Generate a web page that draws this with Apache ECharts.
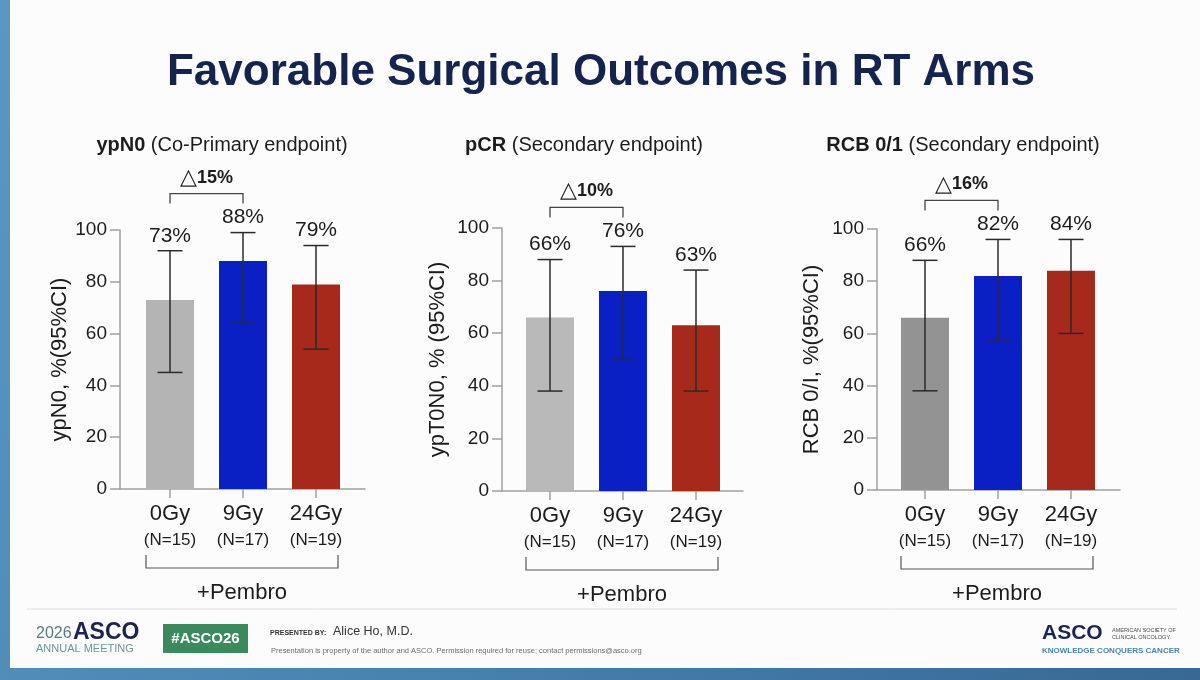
<!DOCTYPE html>
<html>
<head>
<meta charset="utf-8">
<title>Favorable Surgical Outcomes in RT Arms</title>
<script src="https://cdn.jsdelivr.net/npm/echarts@6/dist/echarts.min.js"></script>
<style>
  html, body { margin: 0; padding: 0; }
  body {
    width: 1200px; height: 680px; position: relative; overflow: hidden;
    background: linear-gradient(120deg, #5b97c2 0%, #4680ad 55%, #386893 100%);
  }
  #slide { position: absolute; left: 10px; top: 0; width: 1190px; height: 668px; background: #fcfcfc; }
  #main { position: absolute; left: 0; top: 0; width: 1200px; height: 680px; }
</style>
</head>
<body>
<div id="slide"></div>
<div id="main"></div>
<script>
// arms (RT dose) and group sizes
const arms = ["0Gy", "9Gy", "24Gy"];
const armN = ["N=15", "N=17", "N=19"];
const yTicks = [0, 20, 40, 60, 80, 100];

// ypN0 (co-primary endpoint), % with 95% CI
const ypn0 = [73, 88, 79];
const ypn0Low = [45, 64, 54];
const ypn0High = [92, 99, 94];

// pCR (secondary endpoint)
const pcr = [66, 76, 63];
const pcrLow = [38, 50, 38];
const pcrHigh = [88, 93, 84];

// RCB 0/1 (secondary endpoint)
const rcb = [66, 82, 84];
const rcbLow = [38, 57, 60];
const rcbHigh = [88, 96, 96];

// 9Gy vs 0Gy difference
const deltas = ["15%", "10%", "16%"];

const panels = [
  { head: "ypN0", sub: " (Co-Primary endpoint)", yName: "ypN0, %(95%CI)", val: ypn0, lo: ypn0Low, hi: ypn0High, delta: deltas[0] },
  { head: "pCR", sub: " (Secondary endpoint)", yName: "ypT0N0, % (95%CI)", val: pcr, lo: pcrLow, hi: pcrHigh, delta: deltas[1] },
  { head: "RCB 0/1", sub: " (Secondary endpoint)", yName: "RCB 0/I, %(95%CI)", val: rcb, lo: rcbLow, hi: rcbHigh, delta: deltas[2] }
];

// pixel layout of each panel: y axis x, x axis end, y of top tick, y of zero, first bar centre, axis name gap, title centre
const layout = [
  { ax: 120, xEnd: 365, top: 230, zero: 489, c0: 170, gap: 41, tx: 222 },
  { ax: 502, xEnd: 743, top: 228, zero: 491, c0: 550, gap: 53, tx: 584 },
  { ax: 877, xEnd: 1120, top: 229, zero: 490, c0: 925, gap: 54, tx: 963 }
];
const barColors = [
  ["#b4b4b4", "#0b20c4", "#a6291b"],
  ["#b9b9b9", "#0b20c4", "#a6291b"],
  ["#939393", "#0b20c4", "#a6291b"]
];
const FONT = "'Liberation Sans', Arial, Helvetica, sans-serif";
const axisGray = "#a0a0a0";
const ink = "#1c1c1c";
const step = 73; // bar spacing

// CI whiskers + value label above the upper cap
function errorBar(params, api) {
  const x = api.value(0);
  const lo = api.coord([x, api.value(1)]);
  const hi = api.coord([x, api.value(2)]);
  const st = { stroke: "#2b2b2b", lineWidth: 1.5 };
  return {
    type: "group",
    children: [
      { type: "line", shape: { x1: hi[0], y1: hi[1], x2: lo[0], y2: lo[1] }, style: st },
      { type: "line", shape: { x1: hi[0] - 12.5, y1: hi[1], x2: hi[0] + 12.5, y2: hi[1] }, style: st },
      { type: "line", shape: { x1: lo[0] - 12.5, y1: lo[1], x2: lo[0] + 12.5, y2: lo[1] }, style: st },
      {
        type: "text", x: hi[0], y: hi[1] - 15,
        style: { text: api.value(3) + "%", fontSize: 21, fontFamily: FONT, fill: ink, align: "center", verticalAlign: "middle" }
      }
    ]
  };
}

// delta bracket between two arms and the "+Pembro" bracket under the axis
function decor(delta) {
  return function (params, api) {
    const l = api.coord([api.value(0), api.value(2)]);
    const r = api.coord([api.value(1), api.value(2)]);
    const yb = l[1] - 39;
    const z0 = api.coord([0, 0]);
    const z2 = api.coord([arms.length - 1, 0]);
    const bx1 = z0[0] - 24, bx2 = z2[0] + 22, by = z0[1];
    return {
      type: "group",
      children: [
        {
          type: "polyline",
          shape: { points: [[l[0], yb + 10], [l[0], yb], [r[0], yb], [r[0], yb + 10]] },
          style: { stroke: "#444", lineWidth: 1.3, fill: null }
        },
        {
          type: "text", x: (l[0] + r[0]) / 2, y: yb - 16,
          style: {
            text: "{t|△}{p|" + delta + "}", align: "center", verticalAlign: "middle", fill: ink,
            rich: {
              t: { fontSize: 22, fontFamily: FONT, fill: ink },
              p: { fontSize: 18, fontWeight: "bold", fontFamily: FONT, fill: ink }
            }
          }
        },
        {
          type: "polyline",
          shape: { points: [[bx1, by + 66], [bx1, by + 79], [bx2, by + 79], [bx2, by + 66]] },
          style: { stroke: "#555", lineWidth: 1.2, fill: null }
        },
        {
          type: "text", x: (bx1 + bx2) / 2, y: by + 104,
          style: { text: "+Pembro", fontSize: 22, fontFamily: FONT, fill: ink, align: "center", verticalAlign: "middle" }
        }
      ]
    };
  };
}

const grid = [], xAxis = [], yAxis = [], series = [];
const title = [{
  text: "Favorable Surgical Outcomes in RT Arms",
  left: 601, top: 49, textAlign: "center", padding: 0,
  textStyle: { fontSize: 44, fontWeight: "bold", color: "#15244f", fontFamily: FONT, lineHeight: 48 }
}];

panels.forEach((p, i) => {
  const L = layout[i];
  const a = i * 2, b = i * 2 + 1;
  title.push({
    text: "{b|" + p.head + "}" + p.sub,
    left: L.tx, top: 133, textAlign: "center", padding: 0,
    textStyle: {
      fontSize: 20, fontWeight: "normal", color: ink, fontFamily: FONT, lineHeight: 24,
      rich: { b: { fontSize: 20, fontWeight: "bold", color: ink, fontFamily: FONT, lineHeight: 24 } }
    }
  });
  // frame grid: full-length axes
  grid.push({ left: L.ax, top: L.top, width: L.xEnd - L.ax, height: L.zero - L.top });
  // bar grid
  grid.push({ left: L.c0 - step / 2, top: L.top, width: step * arms.length, height: L.zero - L.top });

  xAxis.push({
    gridIndex: a, type: "value", min: 0, max: 1,
    axisLine: { show: true, onZero: false, lineStyle: { color: axisGray, width: 1.5 } },
    axisTick: { show: false }, axisLabel: { show: false }, splitLine: { show: false }
  });
  xAxis.push({
    gridIndex: b, type: "category", data: arms,
    axisLine: { show: false },
    axisTick: { show: true, alignWithLabel: true, length: 9, lineStyle: { color: axisGray, width: 1.5 } },
    axisLabel: {
      margin: 12, interval: 0,
      formatter: (v, idx) => "{a|" + v + "}\n{b|(" + armN[idx] + ")}",
      rich: {
        a: { fontSize: 22, lineHeight: 26, color: ink, fontFamily: FONT },
        b: { fontSize: 17, lineHeight: 26, color: ink, fontFamily: FONT }
      }
    }
  });
  yAxis.push({
    gridIndex: a, type: "value",
    min: yTicks[0], max: yTicks[yTicks.length - 1], interval: yTicks[1] - yTicks[0],
    name: p.yName, nameLocation: "middle", nameGap: L.gap,
    nameTextStyle: { fontSize: 22, color: ink, fontFamily: FONT },
    axisLine: { show: true, lineStyle: { color: axisGray, width: 1.5 } },
    axisTick: { show: true, length: 10, lineStyle: { color: axisGray, width: 1.5 } },
    axisLabel: { fontSize: 19, color: ink, margin: 13, fontFamily: FONT },
    splitLine: { show: false }
  });
  yAxis.push({
    gridIndex: b, type: "value", show: false,
    min: yTicks[0], max: yTicks[yTicks.length - 1]
  });

  series.push({
    type: "bar", xAxisIndex: b, yAxisIndex: b, barWidth: 48, silent: true,
    data: p.val.map((v, j) => ({ value: v, itemStyle: { color: barColors[i][j] } }))
  });
  series.push({
    type: "custom", xAxisIndex: b, yAxisIndex: b, z: 3, silent: true,
    data: p.val.map((v, j) => [j, p.lo[j], p.hi[j], v]),
    renderItem: errorBar
  });
  series.push({
    type: "custom", xAxisIndex: b, yAxisIndex: b, z: 3, silent: true,
    data: [[0, 1, Math.max(p.hi[0], p.hi[1])]],
    renderItem: decor(p.delta)
  });
});

// slide footer
const footer = [
  { type: "line", shape: { x1: 27, y1: 609, x2: 1177, y2: 609 }, style: { stroke: "#dedede", lineWidth: 1 } },
  { type: "text", x: 36, y: 634, style: { text: "2026", fontSize: 16, fontFamily: FONT, fill: "#587a7c", verticalAlign: "middle" } },
  { type: "text", x: 73, y: 633, style: { text: "ASCO", fontSize: 23, fontWeight: "bold", fontFamily: FONT, fill: "#1b2450", verticalAlign: "middle" } },
  { type: "text", x: 36, y: 649, style: { text: "ANNUAL MEETING", fontSize: 11, fontFamily: FONT, fill: "#6d9595", verticalAlign: "middle" } },
  { type: "rect", shape: { x: 163, y: 624, width: 85, height: 29 }, style: { fill: "#3b8a5e" } },
  { type: "text", x: 205.5, y: 639, style: { text: "#ASCO26", fontSize: 15, fontWeight: "bold", fontFamily: FONT, fill: "#ffffff", align: "center", verticalAlign: "middle" } },
  { type: "text", x: 270, y: 633, style: { text: "PRESENTED BY:", fontSize: 7, fontWeight: "bold", fontFamily: FONT, fill: "#333", verticalAlign: "middle" } },
  { type: "text", x: 333, y: 632, style: { text: "Alice Ho, M.D.", fontSize: 12.5, fontFamily: FONT, fill: "#333", verticalAlign: "middle" } },
  { type: "text", x: 271, y: 651, style: { text: "Presentation is property of the author and ASCO. Permission required for reuse; contact permissions@asco.org", fontSize: 7.5, fontFamily: FONT, fill: "#6b6b6b", verticalAlign: "middle" } },
  { type: "text", x: 1042, y: 633, style: { text: "ASCO", fontSize: 21, fontWeight: "bold", fontFamily: FONT, fill: "#1b2450", verticalAlign: "middle" } },
  { type: "text", x: 1112, y: 630, style: { text: "AMERICAN SOCIETY OF", fontSize: 5.5, fontFamily: FONT, fill: "#4a4a4a", verticalAlign: "middle" } },
  { type: "text", x: 1112, y: 637.5, style: { text: "CLINICAL ONCOLOGY", fontSize: 5.5, fontFamily: FONT, fill: "#4a4a4a", verticalAlign: "middle" } },
  { type: "text", x: 1042, y: 651, style: { text: "KNOWLEDGE CONQUERS CANCER", fontSize: 8, fontWeight: "bold", fontFamily: FONT, fill: "#4a86a8", verticalAlign: "middle" } }
];

const myChart = echarts.init(document.getElementById("main"));
myChart.setOption({
  animation: false,
  textStyle: { fontFamily: FONT },
  title: title,
  grid: grid,
  xAxis: xAxis,
  yAxis: yAxis,
  series: series,
  graphic: { elements: footer }
});
</script>
</body>
</html>
